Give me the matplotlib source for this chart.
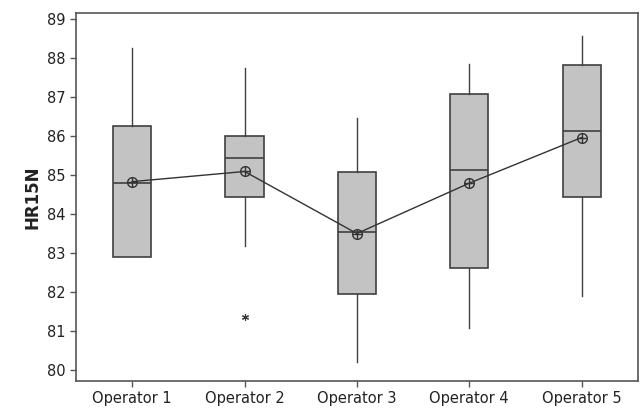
import matplotlib
matplotlib.use("Agg")
import matplotlib.pyplot as plt

operators = ["Operator 1", "Operator 2", "Operator 3", "Operator 4", "Operator 5"]
whisker_low = [82.9, 83.19, 80.21, 81.09, 81.9]
q1 = [82.9, 84.44, 81.95, 82.62, 84.44]
medians = [84.79, 85.43, 83.53, 85.13, 86.14]
q3 = [86.26, 85.99, 85.07, 87.08, 87.82]
whisker_high = [88.26, 87.75, 86.45, 87.85, 88.56]
means = [84.83, 85.09, 83.5, 84.79, 85.96]
outliers = [[], [81.37], [], [], []]

fig = plt.figure(figsize=(6.41, 4.09), dpi=100)
ax = fig.add_axes([0.1186, 0.0685, 0.8764, 0.8995])

stats = []
for i in range(len(operators)):
    stats.append({
        "label": operators[i],
        "whislo": whisker_low[i],
        "q1": q1[i],
        "med": medians[i],
        "q3": q3[i],
        "whishi": whisker_high[i],
        "fliers": outliers[i],
    })

edge = "#404040"
pos = list(range(1, len(operators) + 1))
ax.bxp(stats, positions=pos, widths=0.34, patch_artist=True, showcaps=False,
       boxprops=dict(facecolor="#c3c3c3", edgecolor=edge, linewidth=1.2),
       medianprops=dict(color=edge, linewidth=1.2),
       whiskerprops=dict(color=edge, linewidth=1.0),
       flierprops=dict(marker=(6, 2, 0), markersize=5, markeredgecolor="#333333",
                       markeredgewidth=0.8, linestyle="none"))

# mean connect line with circle-plus symbols
ax.plot(pos, means, color="#333333", linewidth=1.0, zorder=4)
ax.plot(pos, means, linestyle="none", marker="o", markersize=7,
        markerfacecolor="none", markeredgecolor="#333333", markeredgewidth=1.0, zorder=5)
ax.plot(pos, means, linestyle="none", marker="+", markersize=7,
        markeredgecolor="#333333", markeredgewidth=1.0, zorder=5)

ax.set_xlim(0.5, 5.5)
ax.set_ylim(79.72, 89.15)
ax.set_yticks(range(80, 90))
ax.set_xticks(pos)
ax.set_xticklabels(operators)
ax.tick_params(axis="both", direction="out", length=4, width=1, color="#555555",
               labelsize=10.5, labelcolor="#222222")
ax.set_ylabel("HR15N", fontsize=12, fontweight="bold", color="#222222")
for s in ax.spines.values():
    s.set_color("#555555")
    s.set_linewidth(1.2)

fig.savefig("out.png", dpi=100)
